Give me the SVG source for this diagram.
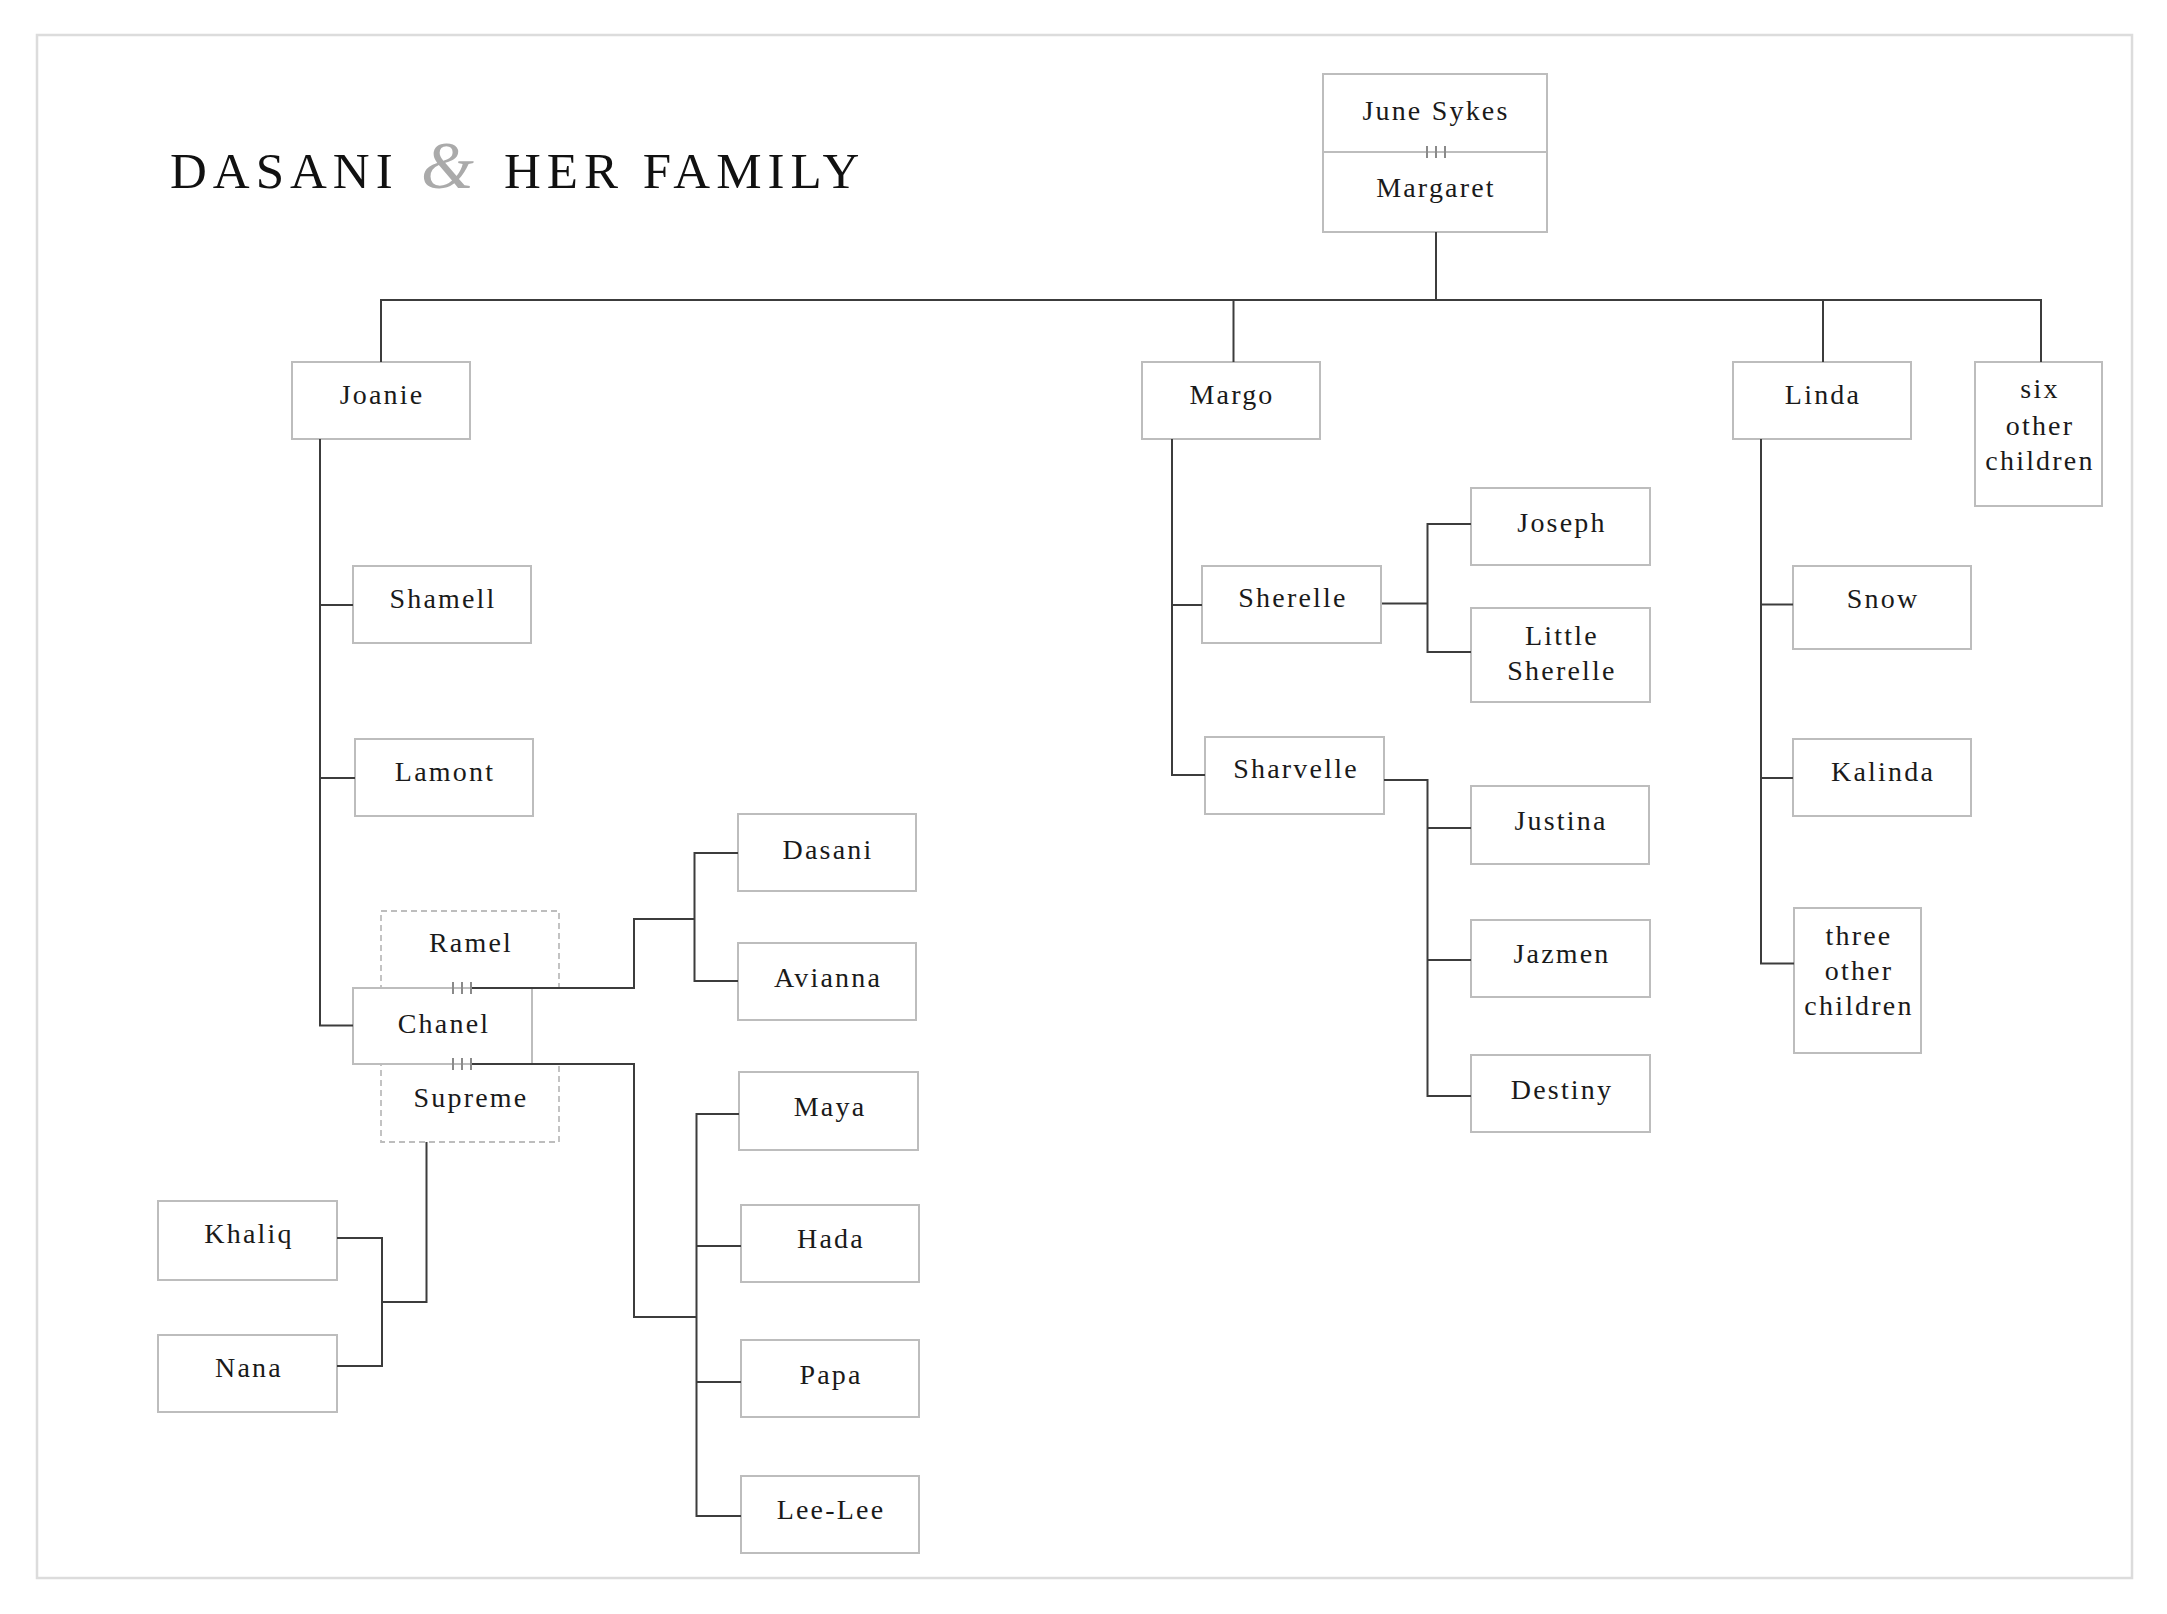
<svg xmlns="http://www.w3.org/2000/svg" width="2167" height="1614" viewBox="0 0 2167 1614">
<style>
.frame{fill:none;stroke:#dcdcdc;stroke-width:2.5}
.box{fill:#fff;stroke:#bdbdbd;stroke-width:2}
.dash{fill:#fff;stroke:#bdbdbd;stroke-width:1.8;stroke-dasharray:6 4}
.lbl{font-family:"Liberation Serif","Times New Roman",serif;font-size:28px;letter-spacing:2.2px;fill:#1a1a1a;text-anchor:middle}
.title{font-family:"Liberation Serif","Times New Roman",serif;font-size:51px;letter-spacing:6px;fill:#111}
.amp{font-family:"Liberation Serif","Times New Roman",serif;font-style:italic;font-size:68px;fill:#aaaaaa}
.conn{fill:none;stroke:#3c3c3c;stroke-width:2}
.tick{stroke:#8a8a8a;stroke-width:2}
</style>
<rect class="frame" x="37" y="35" width="2095" height="1543"/>
<g id="title">
<text class="title" x="170" y="188">DASANI</text>
<text class="amp" x="421" y="188">&amp;</text>
<text class="title" x="504" y="188">HER FAMILY</text>
</g>
<g id="node-june-margaret">
<rect class="box" x="1323" y="74" width="224" height="158"/>
<line x1="1323" y1="152" x2="1547" y2="152" stroke="#bdbdbd" stroke-width="2"/>
<text class="lbl" x="1436" y="120">June Sykes</text>
<text class="lbl" x="1436" y="197">Margaret</text>
</g>
<g id="node-joanie"><rect class="box" x="292" y="362" width="178" height="77"/><text class="lbl" x="382" y="404">Joanie</text></g>
<g id="node-margo"><rect class="box" x="1142" y="362" width="178" height="77"/><text class="lbl" x="1232" y="404">Margo</text></g>
<g id="node-linda"><rect class="box" x="1733" y="362" width="178" height="77"/><text class="lbl" x="1823" y="404">Linda</text></g>
<g id="node-six"><rect class="box" x="1975" y="362" width="127" height="144"/><text class="lbl" x="2040" y="398">six</text><text class="lbl" x="2040" y="435">other</text><text class="lbl" x="2040" y="470">children</text></g>
<g id="node-shamell"><rect class="box" x="353" y="566" width="178" height="77"/><text class="lbl" x="443" y="608">Shamell</text></g>
<g id="node-lamont"><rect class="box" x="355" y="739" width="178" height="77"/><text class="lbl" x="445" y="781">Lamont</text></g>
<g id="node-ramel"><rect class="dash" x="381" y="911" width="178" height="77"/><text class="lbl" x="471" y="952">Ramel</text></g>
<g id="node-supreme"><rect class="dash" x="381" y="1064" width="178" height="78"/><text class="lbl" x="471" y="1107">Supreme</text></g>
<g id="node-chanel"><rect class="box" x="353" y="988" width="179" height="76"/><text class="lbl" x="444" y="1033">Chanel</text></g>
<g id="node-dasani"><rect class="box" x="738" y="814" width="178" height="77"/><text class="lbl" x="828" y="859">Dasani</text></g>
<g id="node-avianna"><rect class="box" x="738" y="943" width="178" height="77"/><text class="lbl" x="828" y="987">Avianna</text></g>
<g id="node-maya"><rect class="box" x="739" y="1072" width="179" height="78"/><text class="lbl" x="830" y="1116">Maya</text></g>
<g id="node-hada"><rect class="box" x="741" y="1205" width="178" height="77"/><text class="lbl" x="831" y="1248">Hada</text></g>
<g id="node-papa"><rect class="box" x="741" y="1340" width="178" height="77"/><text class="lbl" x="831" y="1384">Papa</text></g>
<g id="node-leelee"><rect class="box" x="741" y="1476" width="178" height="77"/><text class="lbl" x="831" y="1519">Lee-Lee</text></g>
<g id="node-khaliq"><rect class="box" x="158" y="1201" width="179" height="79"/><text class="lbl" x="249" y="1243">Khaliq</text></g>
<g id="node-nana"><rect class="box" x="158" y="1335" width="179" height="77"/><text class="lbl" x="249" y="1377">Nana</text></g>
<g id="node-sherelle"><rect class="box" x="1202" y="566" width="179" height="77"/><text class="lbl" x="1293" y="607">Sherelle</text></g>
<g id="node-sharvelle"><rect class="box" x="1205" y="737" width="179" height="77"/><text class="lbl" x="1296" y="778">Sharvelle</text></g>
<g id="node-joseph"><rect class="box" x="1471" y="488" width="179" height="77"/><text class="lbl" x="1562" y="532">Joseph</text></g>
<g id="node-little-sherelle"><rect class="box" x="1471" y="608" width="179" height="94"/><text class="lbl" x="1562" y="645">Little</text><text class="lbl" x="1562" y="680">Sherelle</text></g>
<g id="node-justina"><rect class="box" x="1471" y="786" width="178" height="78"/><text class="lbl" x="1561" y="830">Justina</text></g>
<g id="node-jazmen"><rect class="box" x="1471" y="920" width="179" height="77"/><text class="lbl" x="1562" y="963">Jazmen</text></g>
<g id="node-destiny"><rect class="box" x="1471" y="1055" width="179" height="77"/><text class="lbl" x="1562" y="1099">Destiny</text></g>
<g id="node-snow"><rect class="box" x="1793" y="566" width="178" height="83"/><text class="lbl" x="1883" y="608">Snow</text></g>
<g id="node-kalinda"><rect class="box" x="1793" y="739" width="178" height="77"/><text class="lbl" x="1883" y="781">Kalinda</text></g>
<g id="node-three"><rect class="box" x="1794" y="908" width="127" height="145"/><text class="lbl" x="1859" y="945">three</text><text class="lbl" x="1859" y="980">other</text><text class="lbl" x="1859" y="1015">children</text></g>
<g id="connectors">
<path class="conn" d="M1436 232V300"/>
<path class="conn" d="M381 362V300H2041V362"/>
<path class="conn" d="M1233.5 300V362"/>
<path class="conn" d="M1823 300V362"/>
<path class="conn" d="M320 439V1025.5H353"/>
<path class="conn" d="M320 605H353"/>
<path class="conn" d="M320 778H355"/>
<path class="conn" d="M1172 439V775H1205"/>
<path class="conn" d="M1172 605H1202"/>
<path class="conn" d="M1382 603.5H1427.5"/>
<path class="conn" d="M1471 524H1427.5V652H1471"/>
<path class="conn" d="M1384 780H1427.5V1096H1471"/>
<path class="conn" d="M1427.5 828H1471"/>
<path class="conn" d="M1427.5 960H1471"/>
<path class="conn" d="M1761 439V963.5H1794"/>
<path class="conn" d="M1761 604.5H1793"/>
<path class="conn" d="M1761 778H1793"/>
<path class="conn" d="M472 988H634V919H694.5"/>
<path class="conn" d="M738 853H694.5V981H738"/>
<path class="conn" d="M472 1064H634V1317H696.5"/>
<path class="conn" d="M739 1114H696.5V1516H741"/>
<path class="conn" d="M696.5 1246H741"/>
<path class="conn" d="M696.5 1382H741"/>
<path class="conn" d="M426.5 1142V1302H382"/>
<path class="conn" d="M337 1238H382V1366H337"/>
<g id="marriage-ticks">
<path class="tick" d="M1427 146V158M1436 146V158M1445 146V158"/>
<path class="tick" d="M453 982V994M462 982V994M471 982V994"/>
<path class="tick" d="M453 1058V1070M462 1058V1070M471 1058V1070"/>
</g>
</g>
</svg>
